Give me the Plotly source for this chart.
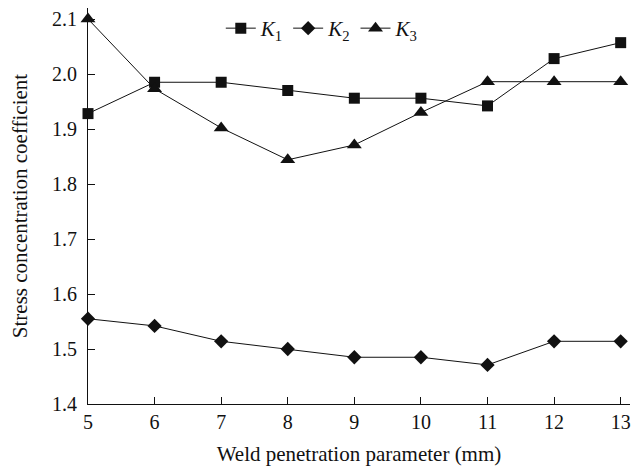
import plotly.graph_objects as go

x_vals = [5, 6, 7, 8, 9, 10, 11, 12, 13]
k1 = [1.928, 1.985, 1.985, 1.970, 1.956, 1.956, 1.942, 2.028, 2.057]
k2 = [1.555, 1.542, 1.514, 1.500, 1.485, 1.485, 1.471, 1.514, 1.514]
k3 = [2.100, 1.973, 1.902, 1.844, 1.871, 1.930, 1.986, 1.986, 1.986]
names = ["<i>K</i><sub>1</sub>", "<i>K</i><sub>2</sub>", "<i>K</i><sub>3</sub>"]
x_ticks = [5, 6, 7, 8, 9, 10, 11, 12, 13]
y_ticks = [1.4, 1.5, 1.6, 1.7, 1.8, 1.9, 2.0, 2.1]

color = "#111111"
font = "Liberation Serif"

fig = go.Figure()
for ys, nm, sym, sz in [(k1, names[0], "square", 11),
                        (k2, names[1], "diamond", 11),
                        (k3, names[2], "triangle-up", 13)]:
    fig.add_trace(go.Scatter(
        x=x_vals, y=ys, name=nm, mode="lines+markers",
        line=dict(color=color, width=1),
        marker=dict(symbol=sym, size=sz, color=color),
        cliponaxis=False,
    ))

fig.update_layout(
    width=641, height=471,
    margin=dict(l=88, r=11, t=8, b=67),
    paper_bgcolor="white", plot_bgcolor="white",
    font=dict(family=font, size=20, color=color),
    showlegend=True,
    legend=dict(orientation="h", x=0.245, y=1.0, xanchor="left", yanchor="top",
                bgcolor="rgba(0,0,0,0)", font=dict(size=21, family=font),
                itemwidth=30, tracegroupgap=0),
)
fig.update_xaxes(
    range=[5, 13.14], tickvals=x_ticks, ticks="inside", ticklen=7,
    tickcolor=color, showline=True, linecolor=color, linewidth=1,
    showgrid=False, zeroline=False, mirror=False,
    title=dict(text="Weld penetration parameter (mm)", font=dict(size=21, family=font), standoff=14),
    tickfont=dict(size=20, family=font),
)
fig.update_yaxes(
    range=[1.4, 2.12], tickvals=y_ticks, tickformat=".1f", ticks="inside", ticklen=7,
    tickcolor=color, showline=True, linecolor=color, linewidth=1,
    showgrid=False, zeroline=False, ticklabelstandoff=6,
    title=dict(text="Stress concentration coefficient", font=dict(size=21, family=font), standoff=18),
    tickfont=dict(size=20, family=font),
)

fig.write_html("out.html")
